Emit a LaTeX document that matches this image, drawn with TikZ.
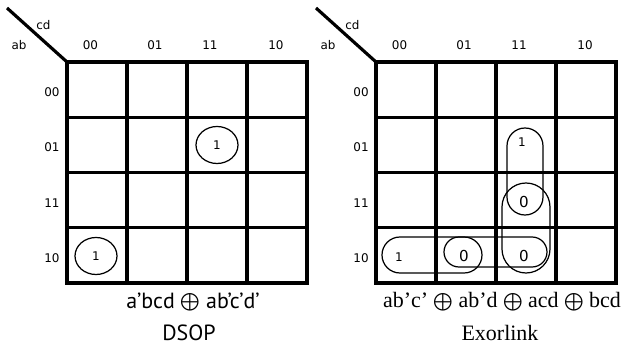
\documentclass[tikz,border=0pt]{standalone}
\usepackage{fontspec}
\setmainfont{Liberation Serif}
\setsansfont{PT Sans}
\newfontfamily\lblfont{DejaVu Sans}
\usepackage{tikz}
\usetikzlibrary{calc}
\usetikzlibrary{shapes.geometric}
\tikzstyle{kline}=[line width=1.8pt]
\tikzstyle{loopline}=[line width=0.7pt]
\tikzstyle{lbl}=[font=\lblfont\fontsize{6.8}{8}\selectfont, inner sep=0pt]
\tikzstyle{zero}=[font=\lblfont\fontsize{8.6}{10}\selectfont, inner sep=0pt]
\tikzstyle{ring}=[lbl, draw, loopline, ellipse, minimum width=0.84cm, minimum height=0.74cm]
\tikzstyle{sexpr}=[font=\sffamily\fontsize{12.5}{14}\selectfont, inner sep=0pt]
\tikzstyle{rexpr}=[font=\rmfamily\fontsize{12.5}{14}\selectfont, inner sep=0pt]
\newcommand{\xorop}{$\mathbin{\bigoplus}$}
\newcommand{\kmap}[2]{
	\begin{scope}[shift={#2}]
	\coordinate (#1corner) at (0,0);
	\coordinate (#1tail) at (-1.2,1.08);
	\foreach \k in {1,2,3} {
		\draw[kline] (1.2*\k,0) -- (1.2*\k,-4.42);
		\draw[kline] (0,-1.105*\k) -- (4.8,-1.105*\k);
	}
	\draw[kline] (0,-4.42) rectangle (4.8,0);
	\draw[kline] (#1tail) -- (#1corner);
	\node[lbl] (#1cd) at (-0.47,0.74) {cd};
	\node[lbl] (#1ab) at (-0.96,0.34) {ab};
	\foreach \x/\t [count=\k] in {0.47/00,1.76/01,2.86/11,4.18/10}
		\node[lbl] (#1col\k) at (\x,0.34) {\t};
	\foreach \t [count=\k] in {00,01,11,10}
		\node[lbl] (#1row\k) at (-0.3,{-1.105*\k+0.5}) {\t};
	\end{scope}
}

\begin{document}
\begin{tikzpicture}
	\useasboundingbox (0,0) rectangle (12.58,6.96);
	\kmap{L}{(1.34,5.72)}
	\kmap{R}{(7.52,5.72)}
	% DSOP cover
	\begin{scope}[shift={(Lcorner)}]
		\node[ring] (Lone1) at (3.0,-1.66) {1};
		\node[ring] (Lone2) at (0.58,-3.88) {1};
	\end{scope}
	% Exorlink cover
	\begin{scope}[shift={(Rcorner)}]
		\draw[loopline, rounded corners=0.36cm] (2.62,-1.32) rectangle (3.34,-3.06);
		\draw[loopline, rounded corners=0.48cm] (2.52,-2.42) rectangle (3.48,-4.22);
		\draw[loopline, rounded corners=0.3cm] (1.36,-3.50) rectangle (3.42,-4.10);
		\draw[loopline, rounded corners=0.36cm] (0.12,-3.50) rectangle (2.12,-4.22);
		\node[lbl] (Rone1) at (2.92,-1.60) {1};
		\node[zero] (Rzero1) at (2.96,-2.80) {0};
		\node[lbl] (Rone2) at (0.46,-3.90) {1};
		\node[zero] (Rzero2) at (1.76,-3.88) {0};
		\node[zero] (Rzero3) at (2.96,-3.88) {0};
	\end{scope}
	\node[sexpr] (Lexpr) at (3.86,0.92) {a’bcd \xorop{} ab’c’d’};
	\node[sexpr] (Ltitle) at (3.78,0.30) {DSOP};
	\node[rexpr] (Rexpr) at (10.04,0.92) {ab’c’ \xorop{} ab’d \xorop{} acd \xorop{} bcd};
	\node[rexpr] (Rtitle) at (10.0,0.30) {Exorlink};
\end{tikzpicture}
\end{document}
